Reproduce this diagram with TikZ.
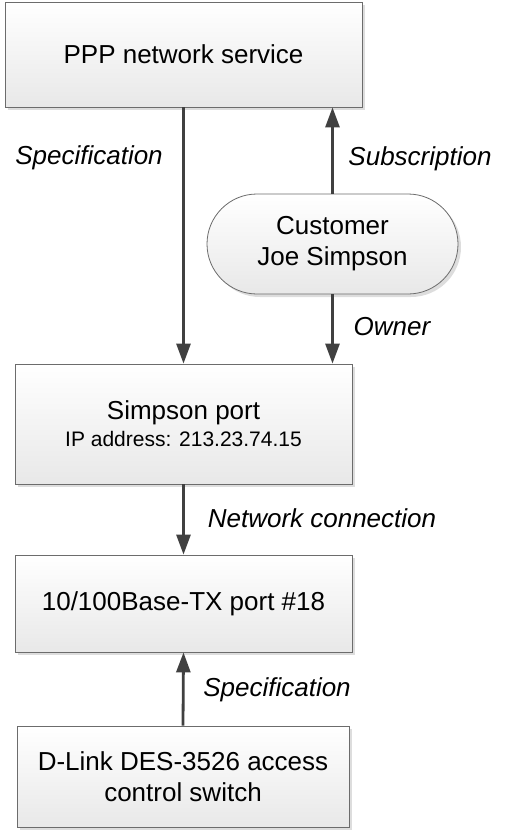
\documentclass[tikz,border=0pt]{standalone}
\usepackage{fontspec}
\setmainfont{Liberation Sans}
\usetikzlibrary{arrows.meta,shadows,positioning}

\tikzset{
    block/.style={draw=gray!85!black, line width=0.8pt, top color=white, bottom color=gray!18,
        drop shadow={shadow xshift=3pt, shadow yshift=-3pt, fill=gray!45, opacity=.6},
        align=center, inner sep=0pt, font=\fontsize{26}{31}\selectfont},
    flow/.style={draw=black!75, line width=2.8pt, -{Triangle[width=14pt,length=20pt]}},
    tag/.style={font=\fontsize{26}{31}\selectfont\itshape, inner sep=0pt}
}

\begin{document}
\begin{tikzpicture}[x=1pt,y=-1pt]
    \useasboundingbox (0,0) rectangle (506,833);

    % boxes
    \node [block, minimum width=357pt, minimum height=105pt] (ppp) at (183.5,54.5) {PPP network service};
    \node [block, minimum width=251pt, minimum height=100pt, rounded corners=50pt] (cust) at (332.5,244) {Customer\\Joe Simpson};
    \node [block, minimum width=337pt, minimum height=120pt] (sport) at (183.5,424)
        {Simpson port\\[-4pt]{\fontsize{21}{25}\selectfont IP address: 213.23.74.15}};
    \node [block, minimum width=337pt, minimum height=97pt] (txport) at (183.5,603.5) {10/100Base-TX port \#18};
    \node [block, minimum width=332pt, minimum height=101pt] (dlink) at (183,776.5) {D-Link DES-3526 access\\control switch};

    % connectors
    \draw [flow] (ppp.south) -- (sport.north);
    \draw [flow] (cust.north) -- (cust.north |- ppp.south);
    \draw [flow] (cust.south) -- (cust.south |- sport.north);
    \draw [flow] (sport.south) -- (txport.north);
    \draw [flow] (dlink.north) -- (txport.south);

    % labels
    \node [tag] (spec1) at (89,158) {Specification};
    \node [tag] (subs) at (420,159) {Subscription};
    \node [tag] (own) at (392,327) {Owner};
    \node [tag] (netc) at (322,518) {Network connection};
    \node [tag] (spec2) at (277,690) {Specification};
\end{tikzpicture}
\end{document}
